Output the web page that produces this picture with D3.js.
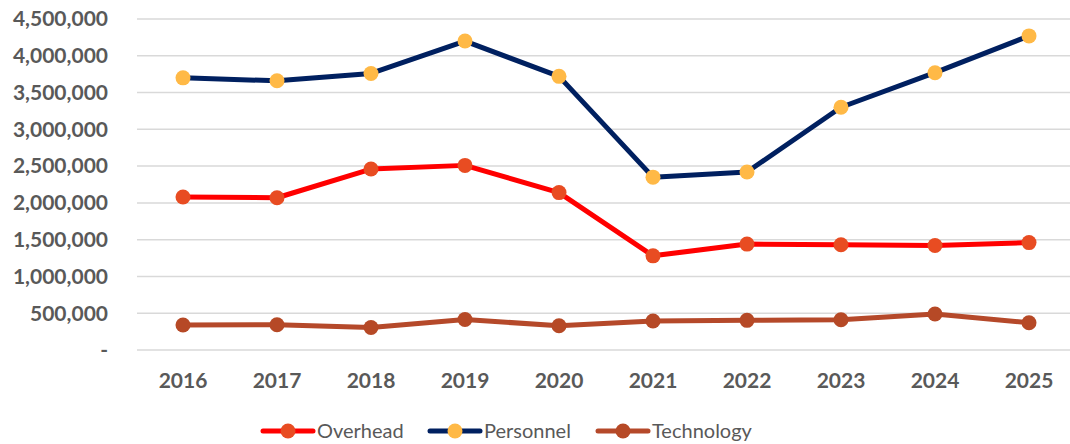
<!DOCTYPE html>
<html lang="en">
<head>
  <meta charset="utf-8">
  <title>Costs by year</title>
  <script src="https://d3js.org/d3.v7.min.js"></script>
  <style>
    body { margin: 0; background: #fff; }
    #chart text { font-family: Lato, "Open Sans", sans-serif; fill: #595959; }
  </style>
</head>
<body>
  <div id="chart"></div>
  <script>
    "use strict"

    // data
    var years = ["2016", "2017", "2018", "2019", "2020", "2021", "2022", "2023", "2024", "2025"];
    var overhead   = [2080000, 2070000, 2460000, 2510000, 2140000, 1280000, 1440000, 1430000, 1420000, 1460000];
    var personnel  = [3700000, 3660000, 3760000, 4200000, 3720000, 2350000, 2420000, 3300000, 3770000, 4270000];
    var technology = [340000, 344000, 306000, 414000, 330000, 394000, 403000, 412000, 489000, 371000];
    var yTicks = [0, 500000, 1000000, 1500000, 2000000, 2500000, 3000000, 3500000, 4000000, 4500000];

    var series = [
      { name: "Overhead",   values: overhead,   line: "#ff0000", dot: "#e84c22" },
      { name: "Personnel",  values: personnel,  line: "#002060", dot: "#ffb946" },
      { name: "Technology", values: technology, line: "#b5492a", dot: "#b64926" }
    ];

    var W = 1070, H = 444;
    var svg = d3.select("#chart").append("svg")
        .attr("width", W).attr("height", H);

    var x = d3.scalePoint().domain(years).range([183, 1029]);
    var y = d3.scaleLinear().domain([0, 4500000]).range([350, 19]);

    // grid lines
    svg.append("g")
      .selectAll("line")
      .data(yTicks)
      .enter().append("line")
        .attr("x1", 137).attr("x2", W)
        .attr("y1", d => y(d)).attr("y2", d => y(d))
        .attr("stroke", "#d9d9d9").attr("stroke-width", 1.5);

    // y axis labels
    var fmt = d3.format(",");
    svg.append("g")
      .selectAll("text")
      .data(yTicks)
      .enter().append("text")
        .attr("x", 108)
        .attr("y", d => y(d))
        .attr("dy", "0.35em")
        .attr("text-anchor", "end")
        .style("font-size", "21px").style("font-weight", "bold")
        .text(d => d === 0 ? "-" : fmt(d));

    // x axis labels
    svg.append("g")
      .selectAll("text")
      .data(years)
      .enter().append("text")
        .attr("x", d => x(d))
        .attr("y", 388)
        .attr("text-anchor", "middle")
        .style("font-size", "21px").style("font-weight", "bold")
        .text(d => d);

    var line = d3.line()
        .x((d, i) => x(years[i]))
        .y(d => y(d));

    series.forEach(function(s) {
      var g = svg.append("g");
      g.append("path")
        .attr("d", line(s.values))
        .attr("fill", "none")
        .attr("stroke", s.line)
        .attr("stroke-width", 5)
        .attr("stroke-linejoin", "round");
      g.selectAll("circle")
        .data(s.values)
        .enter().append("circle")
          .attr("cx", (d, i) => x(years[i]))
          .attr("cy", d => y(d))
          .attr("r", 7.5)
          .attr("fill", s.dot);
    });

    // legend
    var legX = [263, 430, 598];
    var leg = svg.append("g")
      .selectAll("g")
      .data(series)
      .enter().append("g")
        .attr("transform", (d, i) => "translate(" + legX[i] + ",431)");
    leg.append("line")
      .attr("x1", 0).attr("x2", 50)
      .attr("stroke", d => d.line).attr("stroke-width", 5)
      .attr("stroke-linecap", "round");
    leg.append("circle")
      .attr("cx", 25).attr("r", 7.5)
      .attr("fill", d => d.dot);
    leg.append("text")
      .attr("x", 54).attr("dy", "0.35em")
      .style("font-size", "20px")
      .text(d => d.name);
  </script>
</body>
</html>
